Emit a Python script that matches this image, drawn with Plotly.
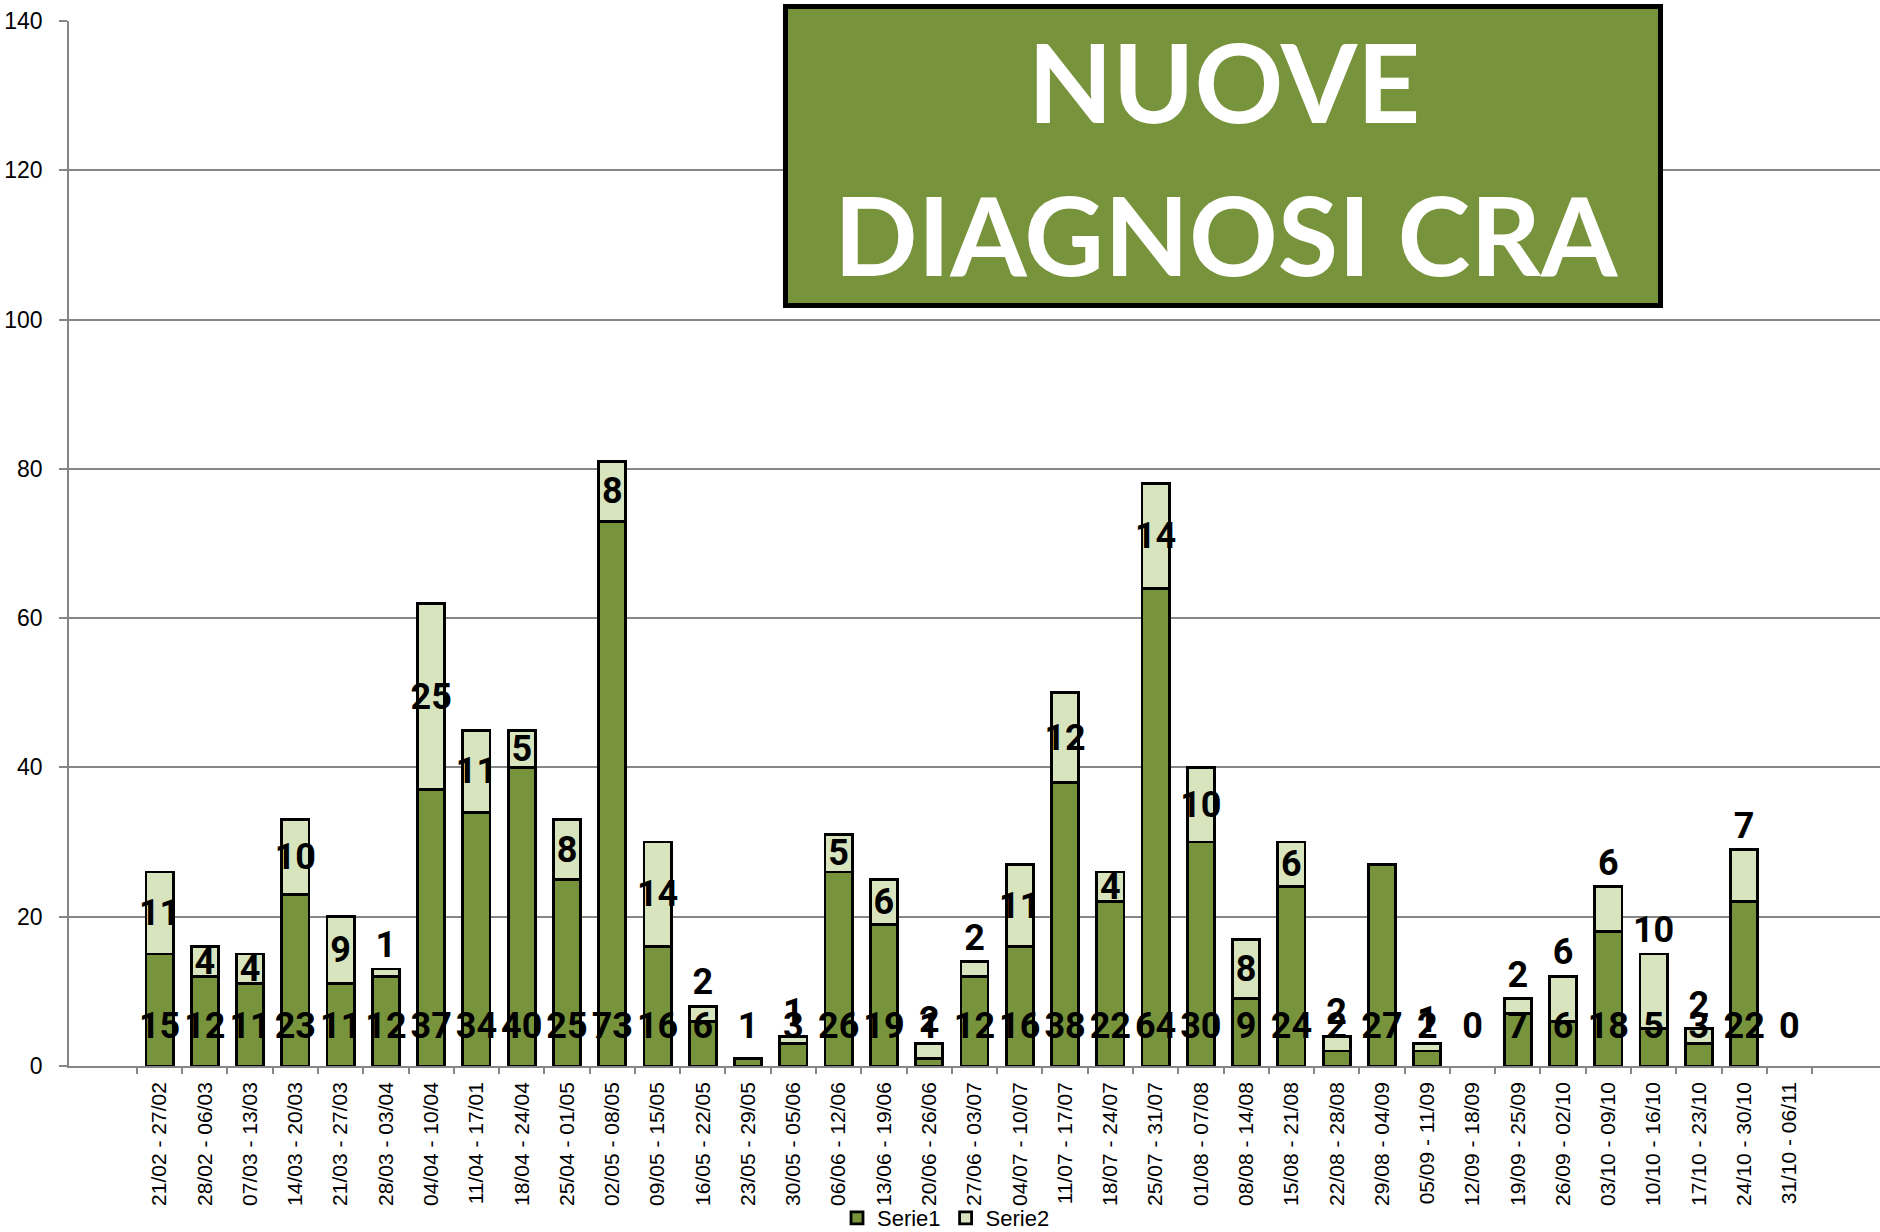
import plotly.graph_objects as go

# ---------------- data ----------------
categories = [
    "21/02 - 27/02", "28/02 - 06/03", "07/03 - 13/03", "14/03 - 20/03", "21/03 - 27/03",
    "28/03 - 03/04", "04/04 - 10/04", "11/04 - 17/01", "18/04 - 24/04", "25/04 - 01/05",
    "02/05 - 08/05", "09/05 - 15/05", "16/05 - 22/05", "23/05 - 29/05", "30/05 - 05/06",
    "06/06 - 12/06", "13/06 - 19/06", "20/06 - 26/06", "27/06 - 03/07", "04/07 - 10/07",
    "11/07 - 17/07", "18/07 - 24/07", "25/07 - 31/07", "01/08 - 07/08", "08/08 - 14/08",
    "15/08 - 21/08", "22/08 - 28/08", "29/08 - 04/09", "05/09 - 11/09", "12/09 - 18/09",
    "19/09 - 25/09", "26/09 - 02/10", "03/10 - 09/10", "10/10 - 16/10", "17/10 - 23/10",
    "24/10 - 30/10", "31/10 - 06/11",
]
serie1 = [15, 12, 11, 23, 11, 12, 37, 34, 40, 25, 73, 16, 6, 1, 3, 26, 19, 1, 12, 16,
          38, 22, 64, 30, 9, 24, 2, 27, 2, 0, 7, 6, 18, 5, 3, 22, 0]
serie2 = [11, 4, 4, 10, 9, 1, 25, 11, 5, 8, 8, 14, 2, 0, 1, 5, 6, 2, 2, 11,
          12, 4, 14, 10, 8, 6, 2, 0, 1, 0, 2, 6, 6, 10, 2, 7, 0]
series_names = ["Serie1", "Serie2"]
y_ticks = [0, 20, 40, 60, 80, 100, 120, 140]
title_lines = ["NUOVE", "DIAGNOSI CRA"]

# ---------------- style ----------------
DARK = "#77933C"
LIGHT = "#D7E4BD"
GRID = "#868686"
BAR_LINE = 2.8
LABEL_FONT = dict(family="Liberation Sans Narrow, Roboto, sans-serif", size=36,
                  color="black", weight="bold")
S1_LABEL_LEVEL = 5  # Serie1 labels sit at the base of the bars
# placement of Serie2 labels (style): inside segment or above bar
S2_POS = ["inside", "inside", "inside", "inside", "inside", "outside", "inside", "inside",
          "inside", "inside", "inside", "inside", "outside", "inside", "outside", "inside",
          "inside", "outside", "outside", "inside", "inside", "inside", "inside", "inside",
          "inside", "inside", "outside", "inside", "outside", "inside", "outside", "outside",
          "outside", "outside", "outside", "outside", "inside"]

W, H = 1880, 1232
L, R, T, B = 69, 0, 21, 166
PW, PH = W - L - R, H - T - B


def px_x(px):
    return (px - L) / PW


def px_y(py):
    return (H - B - py) / PH


def line_widths(vals):
    return [BAR_LINE if v > 0 else 0 for v in vals]


fig = go.Figure()
fig.add_trace(go.Bar(
    x=categories, y=serie1, name=series_names[0],
    marker=dict(color=DARK, line=dict(color="black", width=line_widths(serie1))),
    hoverinfo="x+y",
))
fig.add_trace(go.Bar(
    x=categories, y=serie2, name=series_names[1],
    marker=dict(color=LIGHT, line=dict(color="black", width=line_widths(serie2))),
    text=[str(v) if v > 0 else "" for v in serie2],
    textposition=S2_POS,
    insidetextanchor="middle",
    textangle=0,
    constraintext="none",
    textfont=LABEL_FONT,
    insidetextfont=LABEL_FONT,
    outsidetextfont=LABEL_FONT,
    cliponaxis=False,
    hoverinfo="x+y",
))
fig.add_trace(go.Scatter(
    x=categories, y=[S1_LABEL_LEVEL] * len(categories),
    mode="text", text=[str(v) for v in serie1],
    textposition="middle center", textfont=LABEL_FONT,
    showlegend=False, hoverinfo="skip", cliponaxis=False,
))

# title box
TITLE_FONT = dict(family="Lato, Open Sans, sans-serif", size=110, color="white", weight="bold")
fig.add_shape(type="rect", xref="paper", yref="paper",
              x0=px_x(785.5), x1=px_x(1660.5), y0=px_y(305.5), y1=px_y(6.5),
              fillcolor=DARK, line=dict(color="black", width=5), layer="above")
fig.add_annotation(text=title_lines[0], xref="paper", yref="paper",
                   x=px_x(1224), y=px_y(80), xanchor="center", yanchor="middle",
                   showarrow=False, font=TITLE_FONT)
fig.add_annotation(text=title_lines[1], xref="paper", yref="paper",
                   x=px_x(1226), y=px_y(233), xanchor="center", yanchor="middle",
                   showarrow=False, font=TITLE_FONT)

fig.update_layout(
    width=W, height=H,
    margin=dict(l=L, r=R, t=T, b=B, autoexpand=False),
    paper_bgcolor="white", plot_bgcolor="white",
    barmode="stack", bargap=0.40,
    showlegend=True,
    legend=dict(orientation="h", x=px_x(946), y=px_y(1218),
                xanchor="center", yanchor="middle",
                font=dict(family="Liberation Sans, Arial, sans-serif", size=22, color="black"),
                itemwidth=30, bgcolor="rgba(0,0,0,0)", traceorder="normal"),
)
fig.update_yaxes(
    range=[0, 140], tickvals=y_ticks, ticktext=[str(v) for v in y_ticks],
    showgrid=True, gridcolor=GRID, gridwidth=1.5,
    showline=True, linecolor=GRID, linewidth=1.5,
    ticks="outside", ticklen=8, tickcolor=GRID, tickwidth=1.5,
    tickfont=dict(family="Liberation Sans, Arial, sans-serif", size=23, color="black"),
    ticklabelstandoff=12, zeroline=False, fixedrange=True,
)
fig.update_xaxes(
    type="category", tickangle=-90,
    showline=True, linecolor=GRID, linewidth=1.5,
    ticks="outside", ticklen=6, tickcolor=GRID, tickwidth=1.5, tickson="boundaries",
    tickfont=dict(family="Liberation Sans, Arial, sans-serif", size=21, color="black"),
    ticklabelstandoff=6, showgrid=False, fixedrange=True,
)

fig.write_html("out.html", config={"displayModeBar": False},
               post_script="document.body.style.margin='0';document.body.style.overflow='hidden';")
